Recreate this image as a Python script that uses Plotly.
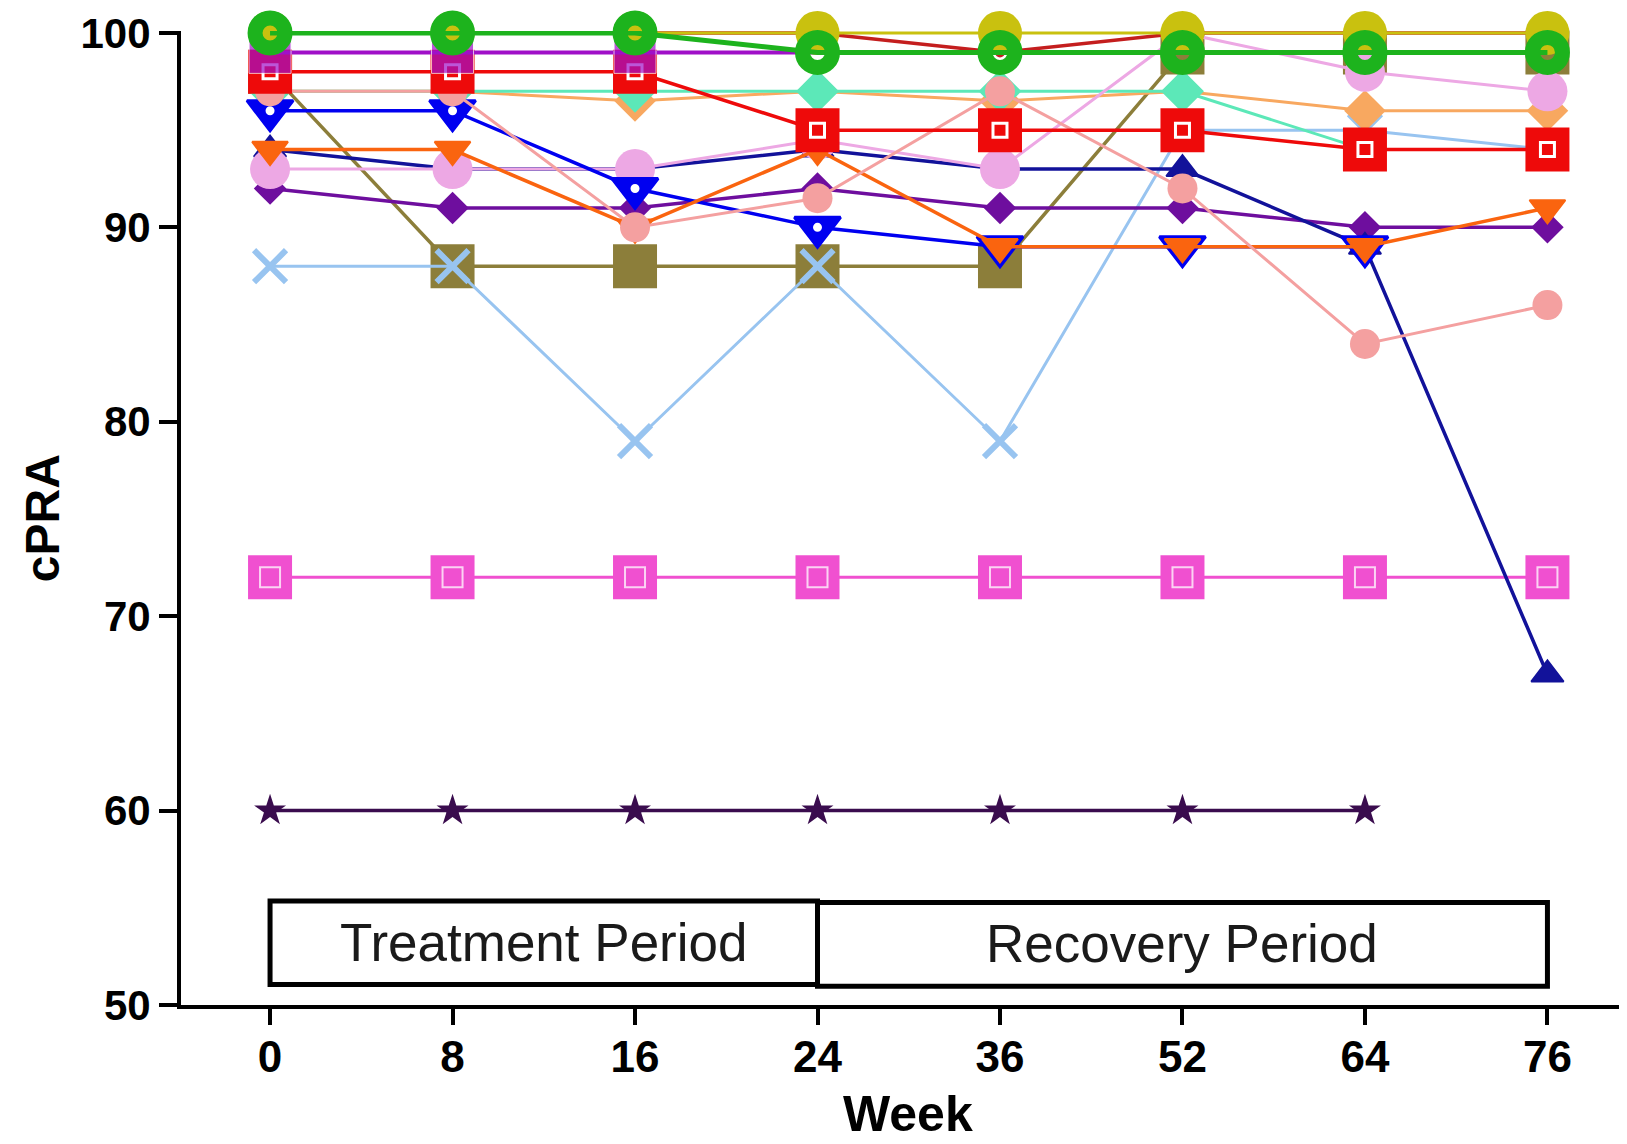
import plotly.graph_objects as go

# ---- data ----
weeks = ["0", "8", "16", "24", "36", "52", "64", "76"]
y_ticks = [50, 60, 70, 80, 90, 100]
period_labels = ["Treatment Period", "Recovery Period"]

yellow_circle = [100, 100, 100, 100, 100, 100, 100, 100]
green_circle = [100, 100, 100, 99, 99, 99, 99, 99]
darkred_dot = [100, 100, 100, 100, 99, 100, 100, 100]
purple_square = [99, 99, 99, 99, None, None, None, None]
red_square = [98, 98, 98, 95, 95, 95, 94, 94]
salmon_circle = [97, 97, 90, 91.5, 97, 92, 84, 86]
orchid_circle = [93, 93, 93, 94.5, 93, 100, 98, 97]
blue_tri_down = [96, 96, 92, 90, 89, 89, 89, None]
navy_tri_up = [94, 93, 93, 94, 93, 93, 89, 67]
orange_tri_down = [94, 94, 90, 94, 89, 89, 89, 91]
purple_diamond = [92, 91, 91, 92, 91, 91, 90, 90]
olive_square = [98, 88, 88, 88, 88, 99, 99, 99]
lightblue_x = [88, 88, 79, 88, 79, 95, 95, 94]
teal_diamond = [97, 97, 97, 97, 97, 97, 94, 94]
orange_diamond = [97, 97, 96.5, 97, 96.5, 97, 96, 96]
magenta_square = [72, 72, 72, 72, 72, 72, 72, 72]
dark_star = [60, 60, 60, 60, 60, 60, 60, None]

FONT = "Liberation Sans, Arial, sans-serif"
fig = go.Figure()


def add(y, color, symbol, size, lw=3, mline=0):
    fig.add_trace(go.Scatter(
        x=weeks, y=y, mode="lines+markers",
        line=dict(color=color, width=lw),
        marker=dict(symbol=symbol, size=size, color=color,
                    line=dict(width=mline, color=color)),
        cliponaxis=False, hoverinfo="skip"))


def overlay(y, symbol, size, color="white", width=2):
    fig.add_trace(go.Scatter(
        x=weeks, y=y, mode="markers",
        marker=dict(symbol=symbol, size=size, color=color,
                    line=dict(width=width, color=color)),
        cliponaxis=False, hoverinfo="skip"))


# drawing order (bottom -> top)
add(dark_star, "#3A0C4E", "star", 24, lw=3.5)
add(magenta_square, "#F050D0", "square", 44, lw=3)
overlay(magenta_square, "square-open", 20, color="rgba(255,255,255,0.75)", width=2)
add(olive_square, "#8C7E3A", "square", 44, lw=3.5)
fig.add_trace(go.Scatter(
    x=weeks, y=lightblue_x, mode="lines+markers",
    line=dict(color="#98C4F0", width=3),
    marker=dict(symbol="x-thin", size=32, color="#98C4F0",
                line=dict(width=6, color="#98C4F0")),
    cliponaxis=False, hoverinfo="skip"))
add(purple_diamond, "#6E0E9E", "diamond", 25, lw=3.5)
add(navy_tri_up, "#12129A", "triangle-up", 28, lw=3.5, mline=2)
add(orange_diamond, "#F8A860", "diamond", 32, lw=3)
add(teal_diamond, "#5CE8B8", "diamond", 33, lw=3)
add(orchid_circle, "#EDA8E4", "circle", 40, lw=3)
add(blue_tri_down, "#0000F0", "triangle-down", 40, lw=3.5, mline=3)
overlay(blue_tri_down, "circle", 7)
add(orange_tri_down, "#FA640F", "triangle-down", 31, lw=3.5, mline=2)
add(salmon_circle, "#F4A0A0", "circle", 30, lw=3)
add(darkred_dot, "#C41E1E", "circle", 10, lw=3.5)
add(red_square, "#EE0A0A", "square", 44, lw=3.5)
overlay(red_square, "square-open", 14, width=3)
fig.add_trace(go.Scatter(
    x=weeks, y=purple_square, mode="lines+markers",
    line=dict(color="#A010C8", width=4),
    marker=dict(symbol="square", size=[42, 42, 42, 0, 0, 0, 0, 0], color="#A010C8"),
    cliponaxis=False, hoverinfo="skip"))
add(yellow_circle, "#C9C10F", "circle", 44, lw=3)
fig.add_trace(go.Scatter(
    x=weeks, y=green_circle, mode="lines+markers",
    line=dict(color="#1DB31D", width=5),
    marker=dict(symbol="circle-open", size=30, color="#1DB31D",
                line=dict(width=15, color="#1DB31D")),
    cliponaxis=False, hoverinfo="skip"))

# period boxes
box_top, box_bot = 55.35, 51.05
fig.add_shape(type="rect", xref="x", yref="y", x0=0, x1=3, y0=box_bot, y1=box_top,
              line=dict(color="black", width=5), fillcolor="rgba(0,0,0,0)")
fig.add_shape(type="rect", xref="x", yref="y", x0=3, x1=7, y0=box_bot - 0.08, y1=box_top - 0.08,
              line=dict(color="black", width=5), fillcolor="rgba(0,0,0,0)")
fig.add_annotation(x=1.5, y=53.2, xref="x", yref="y", text=period_labels[0], showarrow=False,
                   font=dict(family=FONT, size=53, color="#1a1a1a"))
fig.add_annotation(x=5, y=53.15, xref="x", yref="y", text=period_labels[1], showarrow=False,
                   font=dict(family=FONT, size=53, color="#1a1a1a"))

# axis titles
fig.add_annotation(x=-0.096, y=0.5, xref="paper", yref="paper", text="cPRA", showarrow=False,
                   textangle=-90, xanchor="center", yanchor="middle",
                   font=dict(family=FONT, size=48, color="black", weight="bold"))
fig.add_annotation(x=0.503, y=-0.112, xref="paper", yref="paper", text="Week", showarrow=False,
                   xanchor="center", yanchor="middle",
                   font=dict(family=FONT, size=50, color="black", weight="bold"))

fig.update_layout(
    width=1619, height=1136,
    margin=dict(l=173, r=0, t=23, b=139),
    plot_bgcolor="white", paper_bgcolor="white",
    showlegend=False,
    xaxis=dict(type="category", categoryorder="array", categoryarray=weeks,
               range=[-0.488, 7.436], showline=True, linewidth=4, linecolor="black",
               ticks="outside", ticklen=16, tickwidth=4, tickcolor="black",
               ticklabelstandoff=-6,
               tickfont=dict(family=FONT, size=44, color="black", weight="bold"),
               showgrid=False, zeroline=False),
    yaxis=dict(range=[50, 100.1], tickvals=y_ticks, showline=True, linewidth=4, linecolor="black",
               ticks="outside", ticklen=18, tickwidth=4, tickcolor="black",
               tickfont=dict(family=FONT, size=42, color="black", weight="bold"),
               showgrid=False, zeroline=False),
)

fig.write_html("out.html")
